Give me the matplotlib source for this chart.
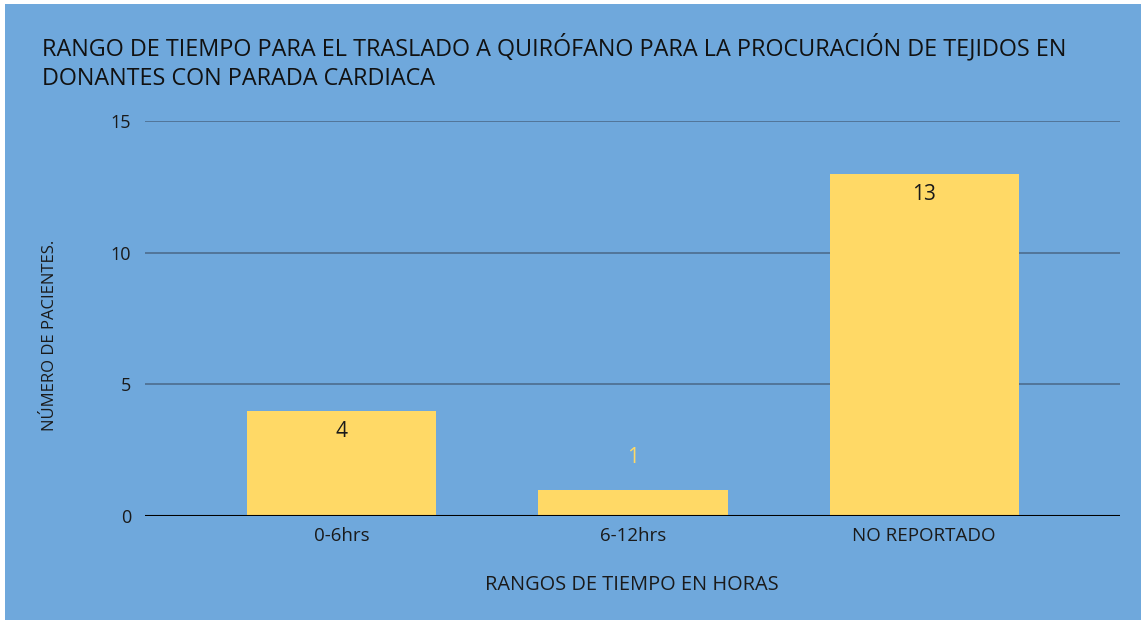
import matplotlib.pyplot as plt
from matplotlib.patches import Rectangle

categories = ['0-6hrs', '6-12hrs', 'NO REPORTADO']
values = [4, 1, 13]
yticks = [0, 5, 10, 15]

title = ('RANGO DE TIEMPO PARA EL TRASLADO A QUIRÓFANO PARA LA PROCURACIÓN DE TEJIDOS EN\n'
         'DONANTES CON PARADA CARDIACA')

blue = '#6fa8dc'
yellow = '#ffd966'
plt.rcParams['font.family'] = ['Open Sans', 'DejaVu Sans']

W, H = 1146, 624
fig = plt.figure(figsize=(W / 100, H / 100), dpi=100)
fig.patch.set_facecolor('white')
fig.patches.append(Rectangle((5 / W, 4 / H), 1136 / W, 616 / H, transform=fig.transFigure,
                             facecolor=blue, edgecolor='none', zorder=-5))

ax = fig.add_axes([145 / W, (H - 516) / H, (1120 - 145) / W, (516 - 121) / H])
ax.set_facecolor('none')
ax.set_zorder(2)

x = range(len(categories))
bars = ax.bar(x, values, width=0.65, color=yellow, zorder=3)
ax.set_xlim(-0.675, 2.672)
ax.set_ylim(0, 15)
ax.set_yticks(yticks)
ax.set_xticks(list(x))
ax.set_xticklabels(categories)
ax.tick_params(axis='x', length=0, labelsize=13.5, colors='#1a1a1a', pad=8)
ax.tick_params(axis='y', length=0, labelsize=13, colors='#1a1a1a', pad=10)
for t in yticks[1:]:
    ax.axhline(t, color='#4a6787', lw=1.1, zorder=1)
ax.axhline(0, color='black', lw=1.5, zorder=4)
for s in ax.spines.values():
    s.set_visible(False)

for i, v in enumerate(values):
    if v >= 3:
        ax.annotate(str(v), (i, v), xytext=(0, -15), textcoords='offset points',
                    ha='center', va='center', fontsize=15, color='#1a1a1a')
    else:
        ax.annotate(str(v), (i, v), xytext=(0, 23), textcoords='offset points',
                    ha='center', va='center', fontsize=15, color=yellow)

fig.text(42 / W, 1 - 62 / H, title, ha='left', va='center', fontsize=16.8,
         color='#111111', linespacing=1.3, zorder=5)
fig.text(50 / W, 1 - 335 / H, 'NÚMERO DE PACIENTES.', rotation=90, ha='center', va='center',
         fontsize=12, color='#1a1a1a', zorder=5)
fig.text(632 / W, 1 - 585 / H, 'RANGOS DE TIEMPO EN HORAS', ha='center', va='center',
         fontsize=14.4, color='#1a1a1a', zorder=5)

plt.savefig('out.png', dpi=100)
plt.close()
